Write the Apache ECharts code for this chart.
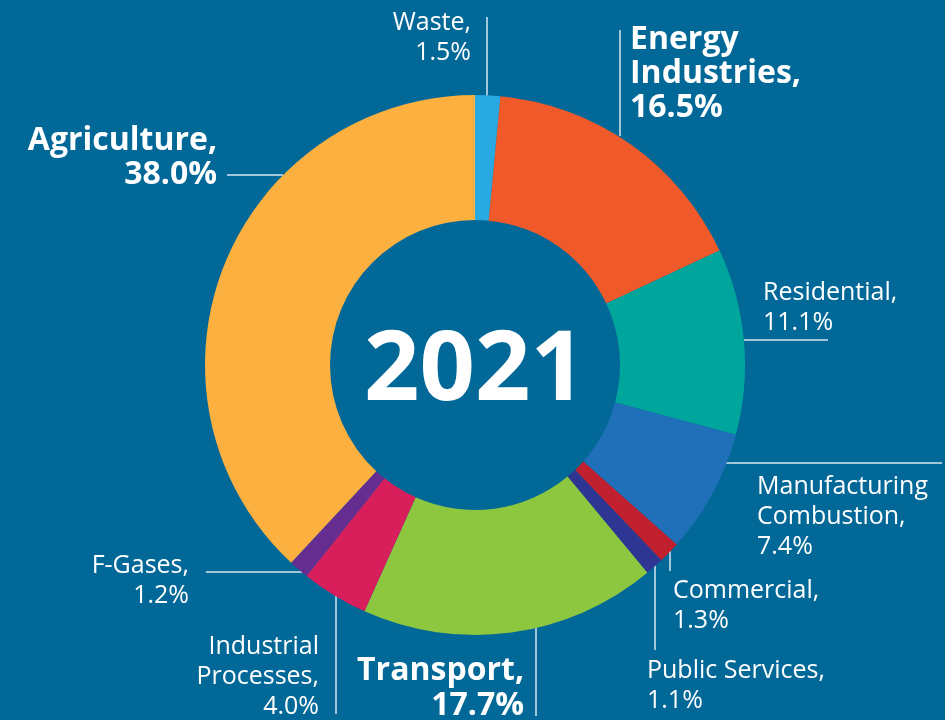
<!DOCTYPE html>
<html><head><meta charset="utf-8">
<script src="https://cdn.jsdelivr.net/npm/echarts@6/dist/echarts.min.js"></script>
<style>html,body{margin:0;padding:0;background:#026898;}#c{width:945px;height:720px;}</style>
</head><body><div id="c"></div>
<script>
const categories = ['Waste','Energy Industries','Residential','Manufacturing Combustion','Commercial','Public Services','Transport','Industrial Processes','F-Gases','Agriculture'];
const labelTexts = ['Waste,\n1.5%','Energy\nIndustries,\n16.5%','Residential,\n11.1%','Manufacturing\nCombustion,\n7.4%','Commercial,\n1.3%','Public Services,\n1.1%','Transport,\n17.7%','Industrial\nProcesses,\n4.0%','F-Gases,\n1.2%','Agriculture,\n38.0%'];
const shares = [1.5, 16.5, 11.1, 7.4, 1.3, 1.1, 17.7, 4.0, 1.2, 38.0];
const colors = ['#29a9e1','#f05a2a','#00a69c','#1f70b9','#c1202f','#2e3592','#8dc63f','#d91e5c','#662d91','#fbb040'];
const boldSet = [false,true,false,false,false,false,true,false,false,true];

// label placement: [x, top, align, lineHeight, leader line points]
const place = [
  [471, 8, 'right', 30, [[487,17],[487,96]]],
  [630, 23, 'left', 34, [[620,30],[620,136]]],
  [763, 278, 'left', 30, [[744,340],[828,340]]],
  [757, 472, 'left', 30, [[725,463],[942,463]]],
  [673, 576, 'left', 30, [[670,545],[670,571]]],
  [647, 656, 'left', 30, [[655,565],[655,650]]],
  [524, 653, 'right', 35, [[536,628],[536,716]]],
  [319, 632, 'right', 30, [[336,596],[336,714]]],
  [189, 551, 'right', 30, [[206,572],[302,572]]],
  [217, 124, 'right', 34, [[227,175],[283,175]]]
];

const data = categories.map((n,i)=>({
  name: n, value: shares[i],
  itemStyle: {color: colors[i]},
  label: {
    formatter: labelTexts[i],
    fontWeight: boldSet[i] ? 'bold' : 'normal',
    fontSize: boldSet[i] ? 32 : 25,
    lineHeight: place[i][3],
    align: place[i][2]
  }
}));

const chart = echarts.init(document.getElementById('c'));
chart.setOption({
  backgroundColor: '#026898',
  animation: false,
  graphic: [{
    type: 'text',
    style: {text: '2021', fill: '#fff', font: 'bold 97px "Open Sans"', align: 'center', verticalAlign: 'middle', x: 0, y: 0},
    position: [475, 372]
  }],
  series: [{
    type: 'pie',
    center: [475, 365],
    radius: [145, 270],
    startAngle: 90,
    clockwise: true,
    avoidLabelOverlap: false,
    silent: true,
    label: {
      show: true, color: '#ffffff', fontFamily: 'Open Sans',
      position: 'outside'
    },
    labelLine: {show: true, lineStyle: {color: 'rgba(235,243,248,0.9)', width: 1.5}, length: 10, length2: 10},
    labelLayout: function (p) {
      const pl = place[p.dataIndex];
      return {x: pl[0], y: pl[1], align: pl[2], verticalAlign: 'top', labelLinePoints: pl[4], hideOverlap: false};
    },
    data: data
  }]
});
</script></body></html>
